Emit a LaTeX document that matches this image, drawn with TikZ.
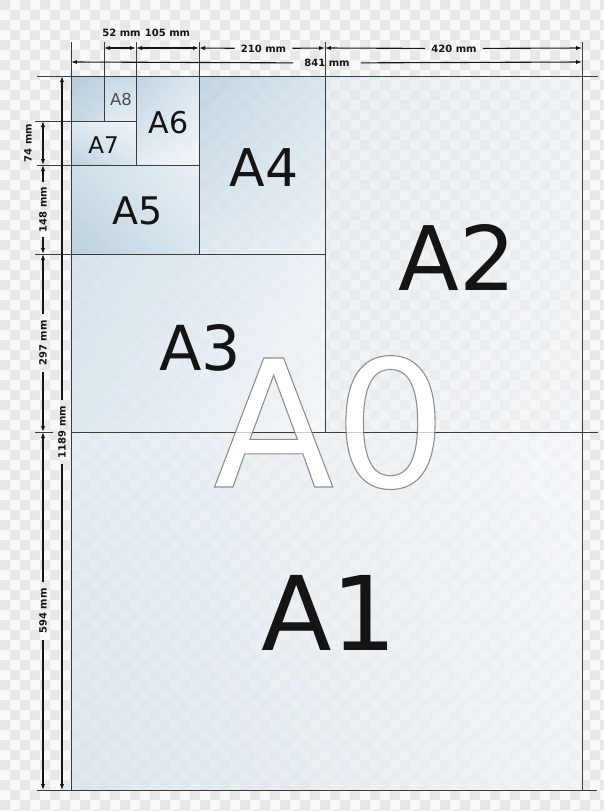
\documentclass[tikz,border=0pt]{standalone}
\usepackage{fontspec}
\setmainfont{DejaVu Sans}
\usetikzlibrary{arrows.meta,shadings}
\definecolor{pagebg}{HTML}{F9F9F9}
\definecolor{checkgray}{HTML}{E8E8E8}
\definecolor{edgecol}{HTML}{3C3C3C}
\definecolor{dimcol}{HTML}{151515}
% A1
\definecolor{aoneUL}{RGB}{226,236,243}\definecolor{aoneUR}{RGB}{245,247,250}
\definecolor{aoneLL}{RGB}{218,229,237}\definecolor{aoneLR}{RGB}{240,244,247}
% A2
\definecolor{atwoUL}{RGB}{225,234,241}\definecolor{atwoUR}{RGB}{238,243,247}
\definecolor{atwoLL}{RGB}{236,241,246}\definecolor{atwoLR}{RGB}{243,246,249}
% A3
\definecolor{athrUL}{RGB}{212,226,236}\definecolor{athrUR}{RGB}{235,241,246}
\definecolor{athrLL}{RGB}{220,232,240}\definecolor{athrLR}{RGB}{244,247,250}
% A4
\definecolor{afouUL}{RGB}{186,208,224}\definecolor{afouUR}{RGB}{214,228,238}
\definecolor{afouLL}{RGB}{221,232,240}\definecolor{afouLR}{RGB}{236,242,246}
% A5
\definecolor{afivUL}{RGB}{205,222,233}\definecolor{afivUR}{RGB}{232,240,245}
\definecolor{afivLL}{RGB}{184,206,222}\definecolor{afivLR}{RGB}{218,231,240}
% A6
\definecolor{asixUL}{RGB}{190,210,225}\definecolor{asixUR}{RGB}{218,231,240}
\definecolor{asixLL}{RGB}{230,238,244}\definecolor{asixLR}{RGB}{242,246,249}
% A7
\definecolor{asevUL}{RGB}{224,235,242}\definecolor{asevUR}{RGB}{240,245,248}
\definecolor{asevLL}{RGB}{186,207,223}\definecolor{asevLR}{RGB}{218,231,239}
% A8
\definecolor{aeigUL}{RGB}{196,215,228}\definecolor{aeigUR}{RGB}{200,218,230}
\definecolor{aeigLL}{RGB}{224,235,242}\definecolor{aeigLR}{RGB}{230,238,244}
% A8 (second)
\definecolor{aebUL}{RGB}{180,203,220}\definecolor{aebUR}{RGB}{188,209,224}
\definecolor{aebLL}{RGB}{194,213,226}\definecolor{aebLR}{RGB}{210,225,235}
\begin{document}
\begin{tikzpicture}[x=1pt,y=-1pt,
  edgeline/.style={draw=edgecol,line width=0.9pt},
  dimline/.style={draw=dimcol,line width=1.1pt},
  dimboth/.style={dimline,{Latex[length=6pt,width=4.2pt]}-{Latex[length=6pt,width=4.2pt]}},
  dimtip/.style={dimline,-{Latex[length=6pt,width=4.2pt]}},
  dimlabel/.style={font=\bfseries\fontsize{10}{12}\selectfont,text=dimcol,inner sep=4pt},
  biglabel/.style={anchor=base,inner sep=0pt,text=black!92}]
\useasboundingbox (0,0) rectangle (603,811);
% background checker
\fill[pagebg] (0,0) rectangle (603,811);
\fill[checkgray] \foreach \i in {0,20,...,600} {\foreach \j in {0,20,...,810} {(\i,\j) rectangle ++(10,10) (\i+10,\j+10) rectangle ++(10,10)}};

% sheet tints
\shade[upper left=aoneUL,upper right=aoneUR,lower left=aoneLL,lower right=aoneLR,opacity=0.8] (71,432) rectangle (582,790);
\shade[upper left=atwoUL,upper right=atwoUR,lower left=atwoLL,lower right=atwoLR,opacity=0.6] (325,76) rectangle (582,432);
\shade[upper left=athrUL,upper right=athrUR,lower left=athrLL,lower right=athrLR,opacity=0.9] (71,254) rectangle (325,432);
\shade[upper left=afouUL,upper right=afouUR,lower left=afouLL,lower right=afouLR,opacity=0.85] (199,76) rectangle (325,254);
\shade[upper left=afivUL,upper right=afivUR,lower left=afivLL,lower right=afivLR,opacity=0.95] (71,165) rectangle (199,254);
\shade[upper left=asixUL,upper right=asixUR,lower left=asixLL,lower right=asixLR,opacity=0.95] (136,76) rectangle (199,165);
\shade[upper left=asevUL,upper right=asevUR,lower left=asevLL,lower right=asevLR,opacity=0.95] (71,121) rectangle (136,165);
\shade[upper left=aeigUL,upper right=aeigUR,lower left=aeigLL,lower right=aeigLR,opacity=0.95] (104,76) rectangle (136,121);
\shade[upper left=aebUL,upper right=aebUR,lower left=aebLL,lower right=aebLR,opacity=0.95] (71,76) rectangle (104,121);

% sheet edges and extension lines
\draw[edgeline] (71,42) -- (71,790);
\draw[edgeline] (582,42) -- (582,790);
\draw[edgeline] (37,76) -- (598,76);
\draw[edgeline] (35,432) -- (53,432);
\draw[edgeline] (71,432) -- (598,432);
\draw[edgeline] (37,790) -- (597,790);
\draw[edgeline] (325,42) -- (325,432);
\draw[edgeline] (35,254) -- (325,254);
\draw[edgeline] (199,42) -- (199,254);
\draw[edgeline] (37,165) -- (199,165);
\draw[edgeline] (136,42) -- (136,165);
\draw[edgeline] (35,121) -- (136,121);
\draw[edgeline] (104,42) -- (104,121);

% A0 outlined (fill white, stroke gray)
\node[biglabel,text=white,font=\fontsize{177}{177}\selectfont] (A0) at (330,487) {\special{pdf:code 2 Tr 1.1 w 0.56 G}A0};
\draw[edgeline,opacity=0.25] (71,432) -- (598,432);
\draw[edgeline,opacity=0.25] (325,76) -- (325,432);

% big labels
\node[biglabel,font=\fontsize{103}{103}\selectfont] (lA1) at (329,650) {A1};
\node[biglabel,font=\fontsize{89}{89}\selectfont] (lA2) at (457,290) {A2};
\node[biglabel,font=\fontsize{62}{62}\selectfont] (lA3) at (200,370) {A3};
\node[biglabel,font=\fontsize{52}{52}\selectfont] (lA4) at (264,186) {A4};
\node[biglabel,font=\fontsize{38}{38}\selectfont] (lA5) at (138,224) {A5};
\node[biglabel,font=\fontsize{30}{30}\selectfont] (lA6) at (168.5,133) {A6};
\node[biglabel,font=\fontsize{23}{23}\selectfont] (lA7) at (103.5,153) {A7};
\node[biglabel,text=black!70,font=\fontsize{16.5}{16.5}\selectfont] (lA8) at (121,105) {A8};

% top dimension coordinates
\coordinate (t104) at (104,48);
\coordinate (t136) at (136,48);
\coordinate (t199) at (199,48);
\coordinate (t325) at (325,48);
\coordinate (t582) at (582,48);
\coordinate (w71) at (71,62);
\coordinate (w582) at (582,62);
\draw[dimboth] (t104) -- (t136);
\draw[dimboth] (t136) -- (t199);
\node[dimlabel] (d52) at (121.5,32.5) {52 mm};
\node[dimlabel] (d105) at (167.5,32.5) {105 mm};
\node[dimlabel,inner sep=6pt] (d210) at (263.5,48.5) {210 mm};
\draw[dimtip] (d210) -- (t199);
\draw[dimtip] (d210) -- (t325);
\node[dimlabel,inner sep=6pt] (d420) at (454,48.5) {420 mm};
\draw[dimtip] (d420) -- (t325);
\draw[dimtip] (d420) -- (t582);
\node[dimlabel,inner sep=11pt] (d841) at (327,63) {841 mm};
\draw[dimtip] (d841) -- (w71);
\draw[dimtip] (d841) -- (w582);

% left dimension coordinates
\coordinate (h76) at (62,76);
\coordinate (h790) at (62,790);
\coordinate (l121) at (43,121);
\coordinate (l165) at (43,165);
\coordinate (l254) at (43,254);
\coordinate (l432) at (43,432);
\coordinate (l790) at (43,790);
\node[dimlabel,rotate=90,inner sep=6pt] (d1189) at (62,432) {1189 mm};
\draw[dimtip] (d1189) -- (h76);
\draw[dimtip] (d1189) -- (h790);
\draw[dimboth] (l121) -- (l165);
\node[dimlabel,rotate=90] (d74) at (28,143) {74 mm};
\node[dimlabel,rotate=90,inner sep=5pt] (d148) at (43,209.5) {148 mm};
\draw[dimtip] (d148) -- (l165);
\draw[dimtip] (d148) -- (l254);
\node[dimlabel,rotate=90,inner sep=6pt] (d297) at (43,343) {297 mm};
\draw[dimtip] (d297) -- (l254);
\draw[dimtip] (d297) -- (l432);
\node[dimlabel,rotate=90,inner sep=6pt] (d594) at (43,611) {594 mm};
\draw[dimtip] (d594) -- (l432);
\draw[dimtip] (d594) -- (l790);
\end{tikzpicture}
\end{document}
